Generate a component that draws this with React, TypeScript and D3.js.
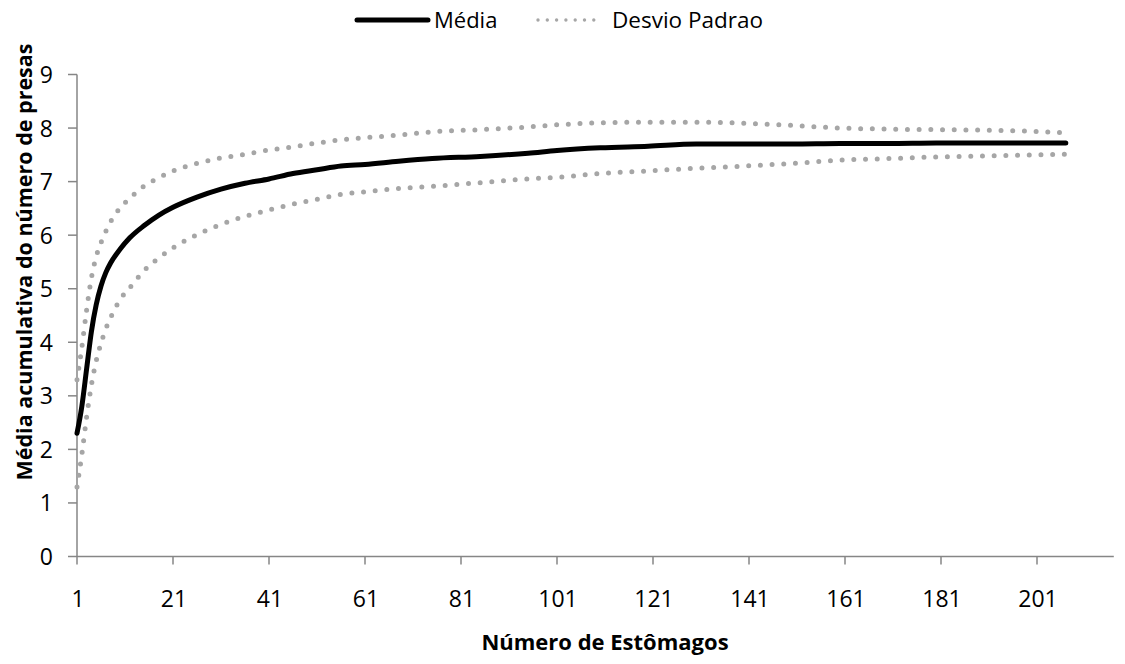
import * as d3 from 'd3';

const WIDTH = 1125;
const HEIGHT = 664;
const FONT = '"Open Sans", "DejaVu Sans", sans-serif';

// number of stomachs sampled along the curves
const stomachs = [1, 2, 3, 4, 5, 6, 7, 8, 10, 12, 15, 18, 21, 26, 31, 36, 41, 46, 51, 56, 61, 68, 75, 85, 95, 101, 110, 120, 130, 140, 150, 160, 170, 180, 190, 200, 207];

const mediaValues = [2.3, 2.8, 3.5, 4.2, 4.7, 5.05, 5.3, 5.48, 5.74, 5.95, 6.18, 6.37, 6.52, 6.71, 6.86, 6.97, 7.05, 7.15, 7.22, 7.29, 7.32, 7.38, 7.43, 7.47, 7.53, 7.58, 7.63, 7.66, 7.7, 7.7, 7.7, 7.71, 7.71, 7.72, 7.72, 7.72, 7.72];

const desvioSup = [3.3, 3.9, 4.6, 5.2, 5.6, 5.86, 6.07, 6.25, 6.51, 6.69, 6.92, 7.07, 7.2, 7.34, 7.44, 7.51, 7.59, 7.65, 7.72, 7.78, 7.82, 7.87, 7.93, 7.97, 8.02, 8.06, 8.1, 8.11, 8.11, 8.09, 8.05, 8.0, 7.98, 7.97, 7.96, 7.94, 7.91];

const desvioInf = [1.3, 1.9, 2.6, 3.2, 3.65, 3.98, 4.25, 4.46, 4.8, 5.02, 5.34, 5.57, 5.76, 6.01, 6.2, 6.35, 6.47, 6.58, 6.67, 6.76, 6.81, 6.87, 6.91, 6.98, 7.05, 7.08, 7.15, 7.2, 7.25, 7.29, 7.34, 7.4, 7.43, 7.46, 7.48, 7.5, 7.51];

const xTicks = [1, 21, 41, 61, 81, 101, 121, 141, 161, 181, 201];
const yTicks = [0, 1, 2, 3, 4, 5, 6, 7, 8, 9];
const AXIS_END = 217;

const legendItems = ['Média', 'Desvio Padrao'];

export default function App() {
  const x = d3.scaleLinear().domain([1, 201]).range([77, 1037]);
  const y = d3.scaleLinear().domain([0, 9]).range([556.5, 74.5]);

  const line = (vals: number[]) =>
    d3.line<number>()
      .x((_, i) => x(stomachs[i]))
      .y(d => y(d))
      .curve(d3.curveMonotoneX)(vals) || '';

  const axisColor = '#868686';
  const dotColor = '#a6a6a6';

  return (
    <svg width={WIDTH} height={HEIGHT} style={{ position: 'absolute', left: 0, top: 0, background: '#fff' }} fontFamily={FONT}>
      {/* legend */}
      <g>
        <line x1={357} x2={428} y1={20} y2={20} stroke="#000" strokeWidth={5} strokeLinecap="round" />
        <text x={434} y={28} fontSize={22} fill="#000">{legendItems[0]}</text>
        <line x1={538} x2={603} y1={20} y2={20} stroke={dotColor} strokeWidth={3.4} strokeLinecap="round" strokeDasharray="0 9.3" />
        <text x={612} y={28} fontSize={22.5} fill="#000">{legendItems[1]}</text>
      </g>

      {/* y axis */}
      <line x1={x(1)} x2={x(1)} y1={y(9)} y2={y(0)} stroke={axisColor} strokeWidth={1.5} />
      {yTicks.map(t => (
        <g key={t}>
          <line x1={x(1) - 9} x2={x(1)} y1={y(t)} y2={y(t)} stroke={axisColor} strokeWidth={1.5} />
          <text x={53} y={y(t) + 8.5} textAnchor="end" fontSize={23} fill="#000">{t}</text>
        </g>
      ))}

      {/* x axis */}
      <line x1={x(1)} x2={x(AXIS_END)} y1={y(0)} y2={y(0)} stroke={axisColor} strokeWidth={1.5} />
      {xTicks.map(t => (
        <g key={t}>
          <line x1={x(t)} x2={x(t)} y1={y(0)} y2={y(0) + 8} stroke={axisColor} strokeWidth={1.5} />
          <text x={x(t) + 1} y={606.5} textAnchor="middle" fontSize={23} fill="#000">{t}</text>
        </g>
      ))}

      {/* axis titles */}
      <text x={605} y={650} textAnchor="middle" fontSize={22} fontWeight="bold" fill="#000">Número de Estômagos</text>
      <text transform="translate(32,262) rotate(-90)" textAnchor="middle" fontSize={21.5} fontWeight="bold" fill="#000">Média acumulativa do número de presas</text>

      {/* series */}
      <path d={line(desvioSup)} fill="none" stroke={dotColor} strokeWidth={5} strokeLinecap="round" strokeDasharray="0 11.7" />
      <path d={line(desvioInf)} fill="none" stroke={dotColor} strokeWidth={5} strokeLinecap="round" strokeDasharray="0 11.7" />
      <path d={line(mediaValues)} fill="none" stroke="#000" strokeWidth={5} strokeLinecap="round" strokeLinejoin="round" />
    </svg>
  );
}
